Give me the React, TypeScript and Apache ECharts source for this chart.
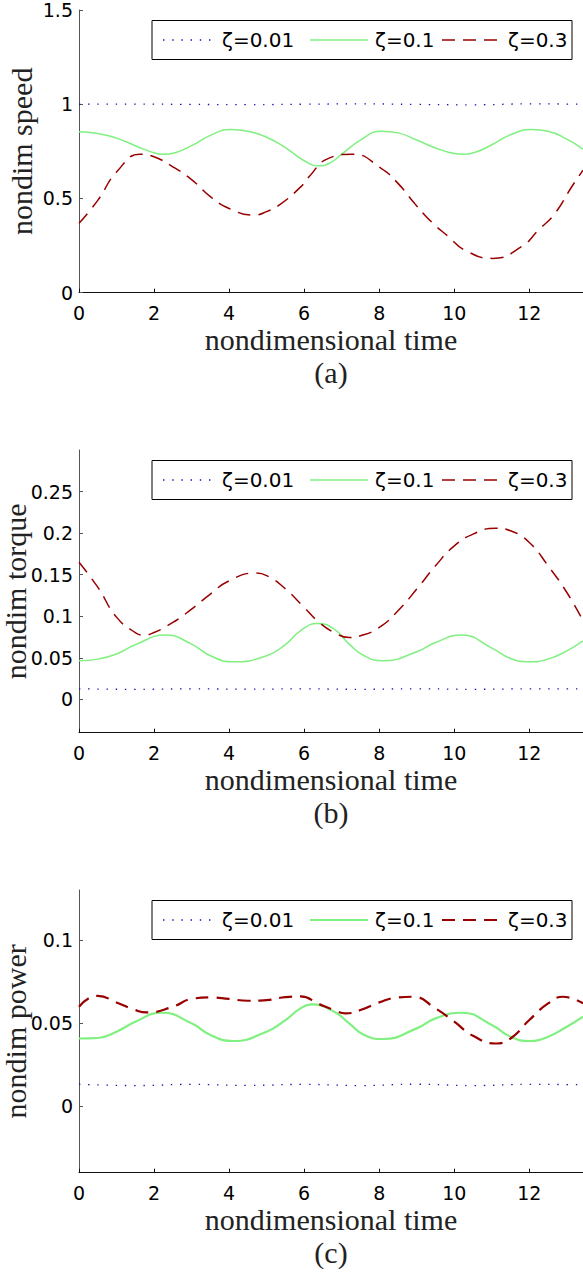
import React, { useEffect, useRef } from "react";
import * as echarts from "echarts";

// ---------- data ----------
const timeTicks = [0, 2, 4, 6, 8, 10, 12];
const timeMax = 13.43;

const legendNames = ["ζ=0.01", "ζ=0.1", "ζ=0.3"];
const panelCaptions = ["(a)", "(b)", "(c)"];
const yTitles = ["nondim speed", "nondim torque", "nondim power"];
const xTitle = "nondimensional time";

const speedTicks = [0, 0.5, 1, 1.5];
const torqueTicks = [0, 0.05, 0.1, 0.15, 0.2, 0.25];
const powerTicks = [0, 0.05, 0.1];
const yRanges: [number, number][] = [[0, 1.5], [-0.04, 0.3], [-0.04, 0.13]];

// speed
const speedZ001: [number, number][] = [
  [0, 1.0], [1.5, 1.001], [3, 0.999], [4.5, 0.998], [6, 1.0], [7.5, 1.002], [9, 0.999],
  [10.5, 0.997], [12, 1.002], [13.43, 1.0],
];
const speedZ01: [number, number][] = [
  [0, 0.854], [0.5, 0.845], [1, 0.82], [1.5, 0.78], [2.0, 0.742], [2.25, 0.734], [2.6, 0.745],
  [3, 0.78], [3.5, 0.835], [4.04, 0.866], [4.5, 0.857], [5, 0.825], [5.5, 0.77], [6.0, 0.7],
  [6.4, 0.673], [6.7, 0.69], [7, 0.735], [7.5, 0.81], [8.05, 0.857], [8.5, 0.848], [9, 0.81],
  [9.5, 0.768], [10, 0.738], [10.23, 0.734], [10.6, 0.748], [11, 0.785], [11.5, 0.838],
  [12.06, 0.866], [12.5, 0.857], [13, 0.815], [13.43, 0.762],
];
const speedZ03: [number, number][] = [
  [0, 0.368], [0.5, 0.49], [1.0, 0.64], [1.63, 0.734], [2.0, 0.721], [2.5, 0.668], [3.0, 0.6],
  [3.5, 0.51], [4.0, 0.447], [4.66, 0.412], [5.0, 0.43], [5.37, 0.47], [5.9, 0.56], [6.13, 0.615],
  [6.62, 0.71], [7.29, 0.735], [8.05, 0.66], [8.5, 0.58], [8.94, 0.474], [9.39, 0.376],
  [9.83, 0.3], [10.28, 0.226], [11.03, 0.182], [11.79, 0.244], [12.24, 0.332], [12.68, 0.42],
  [13.13, 0.562], [13.43, 0.65],
];

// torque
const torqueZ001: [number, number][] = [
  [0, 0.0128], [1.5, 0.0122], [3, 0.0127], [4.5, 0.0124], [6, 0.0127], [7.5, 0.0122],
  [9, 0.0128], [10.5, 0.0122], [12, 0.0127], [13.43, 0.0126],
];
const torqueZ01: [number, number][] = [
  [0, 0.0465], [0.5, 0.0485], [1, 0.0546], [1.5, 0.0657], [2.3, 0.0774], [3, 0.0666],
  [3.5, 0.0525], [4.1, 0.0453], [5, 0.0525], [5.5, 0.066], [5.9, 0.0826], [6.35, 0.0913],
  [6.8, 0.0846], [7.2, 0.0666], [7.6, 0.0525], [8.1, 0.0465], [9, 0.0573], [9.5, 0.0685],
  [10.2, 0.0774], [11, 0.0618], [11.5, 0.0493], [12, 0.0453], [12.5, 0.0485], [13, 0.0585],
  [13.43, 0.0705],
];
const torqueZ03: [number, number][] = [
  [0, 0.165], [0.5, 0.135], [1, 0.099], [1.5, 0.0805], [1.72, 0.0774], [2, 0.0805],
  [2.5, 0.0926], [3, 0.1086], [3.5, 0.1267], [4, 0.1427], [4.7, 0.152], [5, 0.149],
  [5.5, 0.133], [6, 0.1106], [6.4, 0.0926], [6.8, 0.0805], [7.2, 0.0745], [7.5, 0.0765],
  [8, 0.0866], [8.5, 0.1066], [9, 0.1327], [9.5, 0.1607], [10, 0.1847], [10.5, 0.1988],
  [11.1, 0.206], [11.5, 0.2028], [12, 0.1887], [12.5, 0.1607], [13, 0.1286], [13.43, 0.0946],
];

// power
const powerZ001: [number, number][] = [
  [0, 0.0132], [1.5, 0.0124], [3, 0.0131], [4.5, 0.0125], [6, 0.0131], [7.5, 0.0124],
  [9, 0.0132], [10.5, 0.0124], [12, 0.0131], [13.43, 0.0129],
];
const powerZ01: [number, number][] = [
  [0, 0.0407], [0.5, 0.041], [1, 0.0448], [1.5, 0.0508], [2.2, 0.0562], [3, 0.0498],
  [3.5, 0.0428], [4.1, 0.0392], [5, 0.0448], [5.5, 0.0518], [5.9, 0.0588], [6.2, 0.0612],
  [6.8, 0.0568], [7.2, 0.0498], [7.6, 0.0428], [8.1, 0.0404], [9, 0.0468], [9.5, 0.0528],
  [10.2, 0.0562], [11, 0.0488], [11.5, 0.0418], [12, 0.0392], [12.5, 0.0418], [13, 0.0478],
  [13.43, 0.0538],
];
const powerZ03: [number, number][] = [
  [0, 0.0598], [0.3, 0.0654], [0.5, 0.0663], [1, 0.0624], [1.5, 0.0578], [1.8, 0.0564],
  [2.5, 0.0598], [3, 0.0645], [3.5, 0.0654], [4, 0.0645], [4.5, 0.0634], [5, 0.0638],
  [5.5, 0.0656], [5.9, 0.066], [6.4, 0.0614], [6.8, 0.0578], [7.1, 0.0558], [7.5, 0.0578],
  [8, 0.0624], [8.5, 0.0654], [8.9, 0.0658], [9.5, 0.0588], [10, 0.0508], [10.5, 0.0423],
  [11.1, 0.0377], [11.5, 0.0407], [12, 0.0518], [12.5, 0.0618], [12.9, 0.0658], [13.43, 0.0618],
];

const panelSeries = [
  [speedZ001, speedZ01, speedZ03],
  [torqueZ001, torqueZ01, torqueZ03],
  [powerZ001, powerZ01, powerZ03],
];
const panelYTicks = [speedTicks, torqueTicks, powerTicks];

// ---------- styles ----------
const BLUE = "#1414b4";
const GREEN = "#80f080";
const RED = "#990000";
const gridLeft = 79;
const gridWidth = 504;
const gridHeight = 282.7;
const gridTops = [10, 450, 890];
const lineWidths = [1.5, 1.5, 2.2];
const yTitleX = [21, 15, 15];
const SANS = "DejaVu Sans";
const SERIF = "Liberation Serif";

function lineStyleFor(k: number, w: number): any {
  if (k === 0) return { color: BLUE, width: 1.3, type: [1.4, 7.8], cap: "butt" };
  if (k === 1) return { color: GREEN, width: w };
  return { color: RED, width: w, type: [13, 8], cap: "butt" };
}

export default function App() {
  const ref = useRef<HTMLDivElement>(null);
  useEffect(() => {
    document.body.style.margin = "0";
    document.body.style.overflow = "hidden";
    if (!ref.current) return;
    const chart = echarts.init(ref.current, null, { renderer: "svg" });

    const grid: any[] = [];
    const xAxis: any[] = [];
    const yAxis: any[] = [];
    const series: any[] = [];
    const graphic: any[] = [];

    for (let i = 0; i < 3; i++) {
      const top = gridTops[i];
      const bottom = top + gridHeight;
      grid.push({ left: gridLeft, top, width: gridWidth, height: gridHeight });
      xAxis.push({
        type: "value",
        gridIndex: i,
        min: 0,
        max: timeMax,
        splitLine: { show: false },
        axisLine: { onZero: false, lineStyle: { color: "#111", width: 1 } },
        axisTick: { inside: true, length: 4, customValues: timeTicks, lineStyle: { color: "#111" } },
        axisLabel: {
          customValues: timeTicks,
          margin: 11,
          fontFamily: SANS,
          fontSize: 19,
          color: "#000",
        },
      });
      yAxis.push({
        type: "value",
        gridIndex: i,
        min: yRanges[i][0],
        max: yRanges[i][1],
        splitLine: { show: false },
        axisLine: { show: true, onZero: false, lineStyle: { color: "#555", width: 1 } },
        axisTick: { show: true, inside: true, length: 4, customValues: panelYTicks[i], lineStyle: { color: "#555" } },
        axisLabel: {
          customValues: panelYTicks[i],
          margin: 6,
          fontFamily: SANS,
          fontSize: 19,
          color: "#000",
          formatter: (v: number) => String(Number(v.toFixed(4))),
        },
      });
      panelSeries[i].forEach((data, k) => {
        series.push({
          type: "line",
          name: legendNames[k] + "_" + i,
          xAxisIndex: i,
          yAxisIndex: i,
          data,
          showSymbol: false,
          symbol: "none",
          smooth: 0.5,
          lineStyle: lineStyleFor(k, lineWidths[i]),
          z: k === 0 ? 3 : k === 1 ? 2 : 4,
          silent: true,
        });
      });

      // legend box
      const ly = top + 30;
      graphic.push({
        type: "rect",
        z: 100,
        shape: { x: 152, y: top + 10.5, width: 420, height: 39 },
        style: { fill: "#fff", stroke: "#000", lineWidth: 1 },
      });
      const items = [
        { x1: 163, x2: 212, tx: 222 },
        { x1: 310, x2: 368, tx: 375 },
        { x1: 442, x2: 502, tx: 508 },
      ];
      items.forEach((it, k) => {
        const ls = lineStyleFor(k, lineWidths[i]);
        graphic.push({
          type: "line",
          z: 101,
          shape: { x1: it.x1, y1: ly, x2: it.x2, y2: ly },
          style: { stroke: ls.color, lineWidth: ls.width, lineDash: ls.type || null },
        });
        graphic.push({
          type: "text",
          z: 101,
          x: it.tx,
          y: ly,
          style: {
            text: legendNames[k],
            fontFamily: SANS,
            fontSize: 20,
            fill: "#000",
            textAlign: "left",
            textVerticalAlign: "middle",
          },
        });
      });

      // y title
      graphic.push({
        type: "text",
        x: yTitleX[i],
        y: top + gridHeight / 2,
        rotation: Math.PI / 2,
        style: {
          text: yTitles[i],
          fontFamily: SERIF,
          fontSize: 30,
          fill: "#222",
          textAlign: "center",
          textVerticalAlign: "middle",
        },
      });
      // x title
      graphic.push({
        type: "text",
        x: 331,
        y: bottom + 47,
        style: {
          text: xTitle,
          fontFamily: SERIF,
          fontSize: 30,
          fill: "#222",
          textAlign: "center",
          textVerticalAlign: "middle",
        },
      });
      // caption
      graphic.push({
        type: "text",
        x: 331,
        y: bottom + 80,
        style: {
          text: panelCaptions[i],
          fontFamily: SERIF,
          fontSize: 30,
          fill: "#222",
          textAlign: "center",
          textVerticalAlign: "middle",
        },
      });
    }

    chart.setOption({
      animation: false,
      backgroundColor: "#fff",
      grid,
      xAxis,
      yAxis,
      series,
      graphic,
    });
    return () => chart.dispose();
  }, []);
  return <div ref={ref} style={{ width: 583, height: 1272 }} />;
}
